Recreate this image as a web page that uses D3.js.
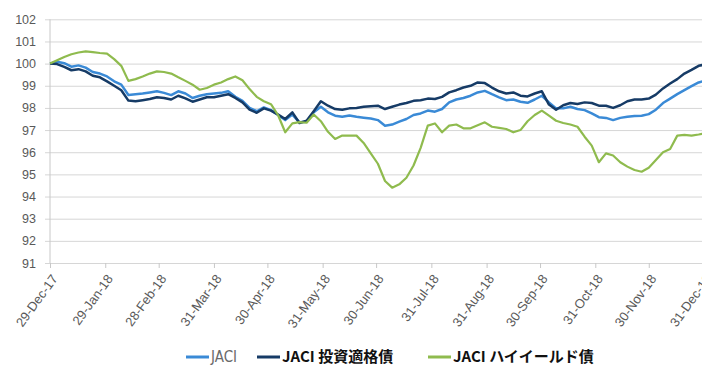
<!DOCTYPE html>
<html>
<head>
<meta charset="utf-8">
<script src="https://cdn.jsdelivr.net/npm/d3@7"></script>
<style>
  body { margin: 0; background: #fff; }
  svg { display: block; }
</style>
</head>
<body>
<svg id="chart" width="702" height="371"></svg>
<script>
// data (roughly every 4 days)
const dates = [
  "2017-12-29","2018-01-02","2018-01-06","2018-01-10","2018-01-14","2018-01-18","2018-01-22","2018-01-26",
  "2018-01-30","2018-02-03","2018-02-07","2018-02-11","2018-02-15","2018-02-19","2018-02-23","2018-02-27",
  "2018-03-03","2018-03-07","2018-03-11","2018-03-15","2018-03-19","2018-03-23","2018-03-27","2018-03-31",
  "2018-04-04","2018-04-08","2018-04-12","2018-04-16","2018-04-20","2018-04-24","2018-04-28","2018-05-02",
  "2018-05-06","2018-05-10","2018-05-14","2018-05-18","2018-05-22","2018-05-26","2018-05-30","2018-06-03",
  "2018-06-07","2018-06-11","2018-06-15","2018-06-19","2018-06-23","2018-06-27","2018-07-01","2018-07-05",
  "2018-07-09","2018-07-13","2018-07-17","2018-07-21","2018-07-25","2018-07-29","2018-08-02","2018-08-06",
  "2018-08-10","2018-08-14","2018-08-18","2018-08-22","2018-08-26","2018-08-30","2018-09-03","2018-09-07",
  "2018-09-11","2018-09-15","2018-09-19","2018-09-23","2018-09-27","2018-10-01","2018-10-05","2018-10-09",
  "2018-10-13","2018-10-17","2018-10-21","2018-10-25","2018-10-29","2018-11-02","2018-11-06","2018-11-10",
  "2018-11-14","2018-11-18","2018-11-22","2018-11-26","2018-11-30","2018-12-04","2018-12-08","2018-12-12",
  "2018-12-16","2018-12-20","2018-12-24","2018-12-28","2018-12-31"
];

const jaci = [
  100.00,100.08,100.02,99.86,99.92,99.82,99.62,99.55,99.42,99.20,99.05,98.58,98.62,98.65,98.70,98.75,
  98.68,98.58,98.75,98.65,98.45,98.55,98.62,98.65,98.68,98.75,98.50,98.32,98.00,97.85,98.02,97.90,
  97.68,97.45,97.70,97.35,97.38,97.80,98.05,97.80,97.65,97.60,97.66,97.60,97.56,97.52,97.45,97.20,
  97.25,97.38,97.50,97.68,97.75,97.88,97.83,97.95,98.25,98.38,98.45,98.55,98.70,98.77,98.62,98.48,
  98.35,98.38,98.28,98.23,98.38,98.55,98.25,97.98,97.98,98.05,97.95,97.90,97.75,97.58,97.55,97.45,
  97.55,97.60,97.63,97.65,97.72,97.92,98.22,98.42,98.62,98.80,98.98,99.15,99.22
];

const jaciIG = [
  100.00,99.98,99.85,99.70,99.75,99.65,99.45,99.38,99.20,99.00,98.80,98.33,98.30,98.35,98.40,98.48,
  98.45,98.38,98.55,98.43,98.28,98.38,98.48,98.48,98.55,98.62,98.45,98.25,97.92,97.78,97.98,97.88,
  97.70,97.50,97.80,97.32,97.42,97.85,98.30,98.10,97.95,97.92,97.98,98.00,98.05,98.08,98.10,97.95,
  98.05,98.15,98.22,98.32,98.35,98.42,98.40,98.50,98.70,98.80,98.92,99.00,99.15,99.12,98.92,98.75,
  98.65,98.70,98.55,98.52,98.65,98.75,98.15,97.92,98.12,98.22,98.18,98.25,98.22,98.10,98.10,98.00,
  98.12,98.30,98.38,98.38,98.42,98.60,98.88,99.10,99.30,99.55,99.72,99.90,99.95
];

const jaciHY = [
  100.00,100.15,100.30,100.42,100.50,100.55,100.52,100.48,100.45,100.20,99.90,99.22,99.30,99.42,99.55,99.65,
  99.62,99.55,99.38,99.22,99.05,98.82,98.90,99.05,99.15,99.30,99.42,99.25,98.85,98.50,98.30,98.17,
  97.67,96.90,97.30,97.36,97.33,97.70,97.40,96.92,96.60,96.75,96.75,96.75,96.42,95.95,95.48,94.70,
  94.40,94.55,94.85,95.40,96.20,97.20,97.30,96.90,97.20,97.25,97.08,97.08,97.22,97.35,97.15,97.10,
  97.05,96.90,97.00,97.40,97.68,97.88,97.65,97.42,97.32,97.25,97.15,96.70,96.30,95.55,95.95,95.85,
  95.55,95.35,95.20,95.12,95.30,95.65,96.00,96.15,96.75,96.78,96.75,96.80,96.85
];

const tickDates = [
  "2017-12-29","2018-01-29","2018-02-28","2018-03-31","2018-04-30","2018-05-31","2018-06-30",
  "2018-07-31","2018-08-31","2018-09-30","2018-10-31","2018-11-30","2018-12-31"
];
const yTicks = [91, 92, 93, 94, 95, 96, 97, 98, 99, 100, 101, 102];

const seriesNames = ["JACI", "JACI 投資適格債", "JACI ハイイールド債"];
const seriesColors = ["#3a8ad6", "#163b66", "#8fbb4e"];

const parse = d3.timeParse("%Y-%m-%d");
const xDates = dates.map(parse);
const series = [jaci, jaciIG, jaciHY].map((vals, i) => ({
  name: seriesNames[i],
  color: seriesColors[i],
  points: vals.map((v, j) => ({ date: xDates[j], value: v }))
}));

const svg = d3.select("#chart");
const plotLeft = 50, plotRight = 704, plotTop = 19.3, plotBottom = 263;

const x = d3.scaleTime()
  .domain([parse("2017-12-29"), parse("2018-12-31")])
  .range([plotLeft, plotRight]);

const y = d3.scaleLinear()
  .domain([91, 102])
  .range([plotBottom, plotTop]);

const labelFont = "'Liberation Sans', Arial, sans-serif";

// gridlines + y labels (axis placed at the right edge, ticks reach back past the left axis)
const yAxis = svg.append("g")
  .attr("transform", `translate(${plotRight},0)`)
  .call(d3.axisLeft(y).tickValues(yTicks).tickSize(plotRight - 45).tickPadding(9).tickFormat(d3.format("d")));
yAxis.select(".domain").remove();
yAxis.selectAll("line").attr("stroke", "#d6d6d6");
yAxis.selectAll("text")
  .attr("fill", "#595959")
  .style("font-family", labelFont)
  .style("font-size", "12.5px");

// left axis line
svg.append("line")
  .attr("x1", plotLeft).attr("x2", plotLeft)
  .attr("y1", y(102)).attr("y2", y(91))
  .attr("stroke", "#c8c8c8");

// x axis
const xAxis = svg.append("g")
  .attr("transform", `translate(0,${plotBottom})`)
  .call(d3.axisBottom(x).tickValues(tickDates.map(parse)).tickSize(5).tickFormat(d3.timeFormat("%d-%b-%y")));
xAxis.select(".domain").remove();
xAxis.selectAll("line").attr("stroke", "#c8c8c8");
xAxis.selectAll("text")
  .attr("fill", "#595959")
  .style("font-family", labelFont)
  .style("font-size", "13px")
  .attr("text-anchor", "end")
  .attr("x", 0).attr("y", 0).attr("dy", "0.35em")
  .attr("transform", "translate(4,13) rotate(-54)");

// lines
const line = d3.line()
  .x(d => x(d.date))
  .y(d => y(d.value));

svg.append("g")
  .selectAll("path")
  .data(series)
  .join("path")
  .attr("d", d => line(d.points))
  .attr("fill", "none")
  .attr("stroke", d => d.color)
  .attr("stroke-width", (d, i) => i === 2 ? 2.2 : 2.5)
  .attr("stroke-linejoin", "round");

// legend
const legendX = [186, 257, 428];
const legend = svg.append("g")
  .selectAll("g")
  .data(series)
  .join("g")
  .attr("transform", (d, i) => `translate(${legendX[i]},357)`);

legend.append("line")
  .attr("x1", 0).attr("x2", 23)
  .attr("stroke", d => d.color)
  .attr("stroke-width", 3);

legend.append("text")
  .attr("x", 25)
  .attr("dy", "0.35em")
  .text(d => d.name)
  .attr("fill", (d, i) => i === 0 ? "#6a6a6a" : "#111")
  .style("font-family", (d, i) => i === 0 ? "'Liberation Sans Narrow', 'DejaVu Sans Condensed', sans-serif" : "'Noto Sans CJK JP', sans-serif")
  .style("font-weight", (d, i) => i === 0 ? "normal" : "bold")
  .style("font-size", "15px");
</script>
</body>
</html>
